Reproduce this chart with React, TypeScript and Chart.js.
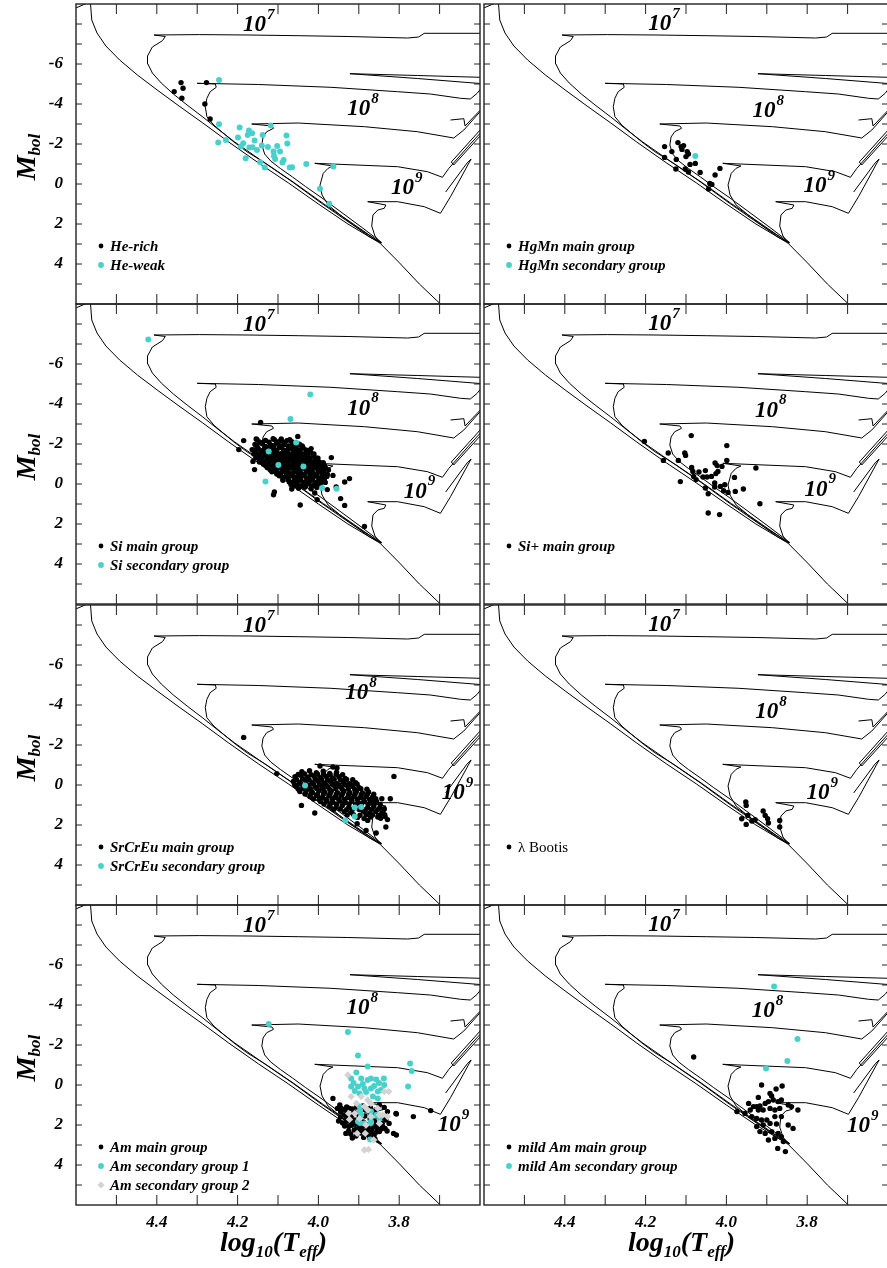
import React, { useEffect, useRef } from 'react';
import { Chart, registerables } from 'chart.js';

Chart.register(...registerables);

type P = [number, number];

// ---------- axes ----------
const X_MIN = 3.6;
const X_MAX = 4.6;
const Y_MIN = -9;
const Y_MAX = 6;
const X_TICK_LABELS = ['4.4', '4.2', '4.0', '3.8'];
const Y_TICK_LABELS = ['-6', '-4', '-2', '0', '2', '4'];

// ---------- isochrones (log Teff, Mbol) ----------
const ZAMS: P[] = [
  [4.565, -9.2], [4.564, -9.0], [4.561, -8.2], [4.548, -7.55], [4.526, -6.9], [4.492, -6.2],
  [4.448, -5.45], [4.399, -4.7], [4.345, -3.9], [4.286, -3.05], [4.222, -2.1], [4.148, -1.05],
  [4.074, -0.05], [4.0, 1.0], [3.927, 2.0], [3.848, 2.95], [3.799, 3.95], [3.75, 5.0], [3.698, 6.0],
];
const ISO_A: P[] = [[4.566, -9.1], [4.603, -8.78], [4.62, -8.65]];
const ISO_B: P[] = [
  [3.846, 2.925], [3.922, 1.95], [3.993, 0.95], [4.064, -0.1], [4.136, -1.1], [4.207, -2.1],
  [4.246, -2.7], [4.286, -3.35], [4.325, -3.95], [4.359, -4.5], [4.389, -5.05], [4.411, -5.55],
  [4.422, -6.0], [4.423, -6.4], [4.411, -6.85], [4.386, -7.165], [4.379, -7.375], [4.407, -7.45],
  [4.295, -7.47], [4.172, -7.45], [4.05, -7.415], [3.927, -7.375], [3.779, -7.3], [3.752, -7.35],
  [3.738, -7.535], [3.55, -7.535],
];
const ISO_C: P[] = [
  [3.846, 2.94], [3.917, 1.95], [3.988, 0.975], [4.057, -0.025], [4.128, -1.0], [4.177, -1.615],
  [4.21, -2.115], [4.235, -2.535], [4.259, -2.95], [4.276, -3.365], [4.28, -3.865], [4.276, -4.285],
  [4.268, -4.615], [4.253, -4.835], [4.255, -5.0], [4.3, -5.035], [4.148, -4.975], [3.969, -4.835],
  [3.804, -4.615], [3.723, -4.5], [3.648, -4.285], [3.624, -4.25], [3.607, -4.535], [3.593, -4.9],
  [3.558, -5.2], [3.6, -5.025], [3.755, -5.275], [3.922, -5.515], [3.755, -5.425], [3.6, -5.335],
  [3.558, -5.325],
];
const ISO_D: P[] = [
  [3.843, 2.93], [3.897, 2.1], [3.944, 1.4], [3.991, 0.7], [4.032, 0.125], [4.064, -0.35],
  [4.094, -0.775], [4.118, -1.15], [4.133, -1.5], [4.14, -1.95], [4.137, -2.35], [4.128, -2.615],
  [4.111, -2.785], [4.115, -2.9], [4.165, -3.0], [4.05, -3.05], [3.886, -2.865], [3.755, -2.615],
  [3.665, -2.3], [3.64, -2.7], [3.607, -3.45], [3.583, -4.0], [3.598, -3.725], [3.637, -2.9],
  [3.64, -3.265], [3.673, -3.2],
];
const ISO_E: P[] = [
  [3.843, 2.95], [3.873, 2.65], [3.907, 2.15], [3.946, 1.55], [3.976, 1.05], [3.991, 0.55],
  [3.996, 0.05], [3.988, -0.535], [3.976, -0.785], [3.964, -0.9], [4.009, -1.035], [3.804, -0.865],
  [3.73, -0.615], [3.693, -0.335], [3.677, -0.785], [3.615, -2.2], [3.583, -2.9], [3.593, -2.55],
  [3.665, -0.95], [3.671, -1.1], [3.593, -2.85],
];
const ISO_F: P[] = [
  [3.846, 2.95], [3.86, 2.6], [3.868, 2.1], [3.865, 1.55], [3.853, 1.3], [3.837, 1.215],
  [3.833, 1.05], [3.878, 0.885], [3.804, 0.885], [3.738, 1.135], [3.698, 1.465], [3.673, 0.635],
  [3.622, -1.25], [3.632, -1.05], [3.685, 0.4],
];
const ISOCHRONES: P[][] = [ZAMS, ISO_A, ISO_B, ISO_C, ISO_D, ISO_E, ISO_F];

// ---------- isochrone age labels (anchor of "10", exponent) ----------
const AGE_EXPONENTS = ['7', '8', '9'];
const AGES_HE: P[] = [[4.158, -7.95], [3.9, -3.75], [3.792, 0.225]];
const AGES_HGMN: P[] = [[4.165, -8.0], [3.907, -3.65], [3.781, 0.125]];
const AGES_SI: P[] = [[4.158, -7.95], [3.9, -3.77], [3.76, 0.38]];
const AGES_SIPLUS: P[] = [[4.165, -8.0], [3.901, -3.67], [3.778, 0.28]];
const AGES_SRCREU: P[] = [[4.158, -7.95], [3.905, -4.6], [3.666, 0.42]];
const AGES_LBOO: P[] = [[4.165, -8.0], [3.9, -3.63], [3.773, 0.42]];
const AGES_AM: P[] = [[4.158, -7.95], [3.902, -3.83], [3.676, 2.0]];
const AGES_MILDAM: P[] = [[4.165, -8.0], [3.909, -3.68], [3.673, 2.05]];

// ---------- stars ----------
const HE_RICH: P[] = [[4.357, -4.62], [4.34, -5.07], [4.335, -4.79], [4.338, -4.29], [4.277, -5.07], [4.281, -4.0], [4.268, -3.25]];
const HE_WEAK: P[] = [
  [4.246, -5.2], [4.246, -2.99], [4.248, -2.07], [4.229, -2.2], [4.195, -2.82], [4.199, -2.32], [4.186, -2.04],
  [4.192, -1.87], [4.172, -2.67], [4.175, -2.45], [4.164, -2.54], [4.158, -2.17], [4.171, -1.82], [4.163, -1.84],
  [4.152, -1.7], [4.18, -1.29], [4.138, -2.45], [4.14, -1.92], [4.125, -1.85], [4.118, -2.92], [4.102, -1.9],
  [4.111, -1.62], [4.095, -1.62], [4.11, -1.4], [4.107, -1.25], [4.086, -1.2], [4.089, -1.07], [4.079, -2.42],
  [4.077, -2.02], [4.071, -0.82], [4.065, -0.84], [4.144, -1.09], [4.133, -0.82], [4.03, -1.0], [3.963, -0.87],
  [3.996, 0.24], [3.973, 0.99],
];
const HGMN_MAIN: P[] = [
  [4.153, -1.87], [4.153, -1.33], [4.135, -1.62], [4.124, -1.23], [4.12, -2.07], [4.112, -1.87], [4.106, -1.92],
  [4.11, -1.73], [4.1, -1.37], [4.097, -1.62], [4.094, -1.5], [4.125, -0.75], [4.102, -0.75], [4.094, -0.6],
  [4.09, -0.98], [4.077, -1.03], [4.065, -0.58], [4.041, -0.03], [4.036, 0.02], [4.044, 0.25], [4.028, -0.45],
  [4.016, -0.78],
];
const HGMN_SEC: P[] = [[4.077, -1.4]];
const SI_MAIN: P[] = [
  [4.143, -3.08], [4.185, -2.17], [4.197, -1.72], [4.158, -0.72], [4.111, 0.54], [4.109, 0.4], [4.045, 1.05],
  [4.003, 0.78], [3.935, 1.07], [3.945, 0.73], [3.935, -0.1], [3.923, -0.27], [3.964, -0.43], [3.968, -1.32],
  [4.018, -1.77], [4.051, -2.38], [4.078, -2.17], [4.092, -2.25], [4.109, -2.22], [4.154, -2.25], [4.14, -2.05],
  [4.164, -1.72], [4.162, -1.13], [3.886, 2.12], [3.956, 0.15], [3.983, -0.08], [3.978, 0.28], [4.009, 0.45],
  [4.066, 0.25],
  [4.152, -2.22], [4.131, -2.18], [4.112, -2.26], [4.094, -2.15], [4.071, -2.21], [4.058, -2.05],
  [4.157, -1.98], [4.139, -2.02], [4.118, -1.95], [4.101, -2.04], [4.083, -1.97], [4.064, -1.92], [4.047, -1.99],
  [4.149, -1.78], [4.128, -1.83], [4.113, -1.74], [4.097, -1.81], [4.086, -1.7], [4.069, -1.79], [4.052, -1.72],
  [4.038, -1.81], [4.024, -1.66],
  [4.154, -1.58], [4.141, -1.62], [4.124, -1.55], [4.108, -1.63], [4.093, -1.52], [4.079, -1.59], [4.063, -1.54],
  [4.049, -1.61], [4.033, -1.49], [4.019, -1.57],
  [4.148, -1.38], [4.133, -1.43], [4.119, -1.35], [4.104, -1.41], [4.089, -1.33], [4.074, -1.39], [4.061, -1.31],
  [4.044, -1.42], [4.029, -1.34], [4.013, -1.4], [4.001, -1.29],
  [4.144, -1.19], [4.128, -1.22], [4.114, -1.15], [4.099, -1.24], [4.084, -1.13], [4.071, -1.2], [4.056, -1.12],
  [4.041, -1.21], [4.026, -1.14], [4.009, -1.18], [3.996, -1.08],
  [4.136, -0.99], [4.123, -1.03], [4.109, -0.95], [4.093, -1.01], [4.078, -0.93], [4.064, -0.99], [4.049, -0.91],
  [4.034, -1.02], [4.019, -0.94], [4.004, -0.98], [3.991, -0.88],
  [4.126, -0.81], [4.112, -0.77], [4.098, -0.84], [4.083, -0.75], [4.068, -0.82], [4.053, -0.73], [4.039, -0.8],
  [4.023, -0.74], [4.008, -0.81], [3.994, -0.71], [3.982, -0.79],
  [4.115, -0.61], [4.101, -0.57], [4.087, -0.64], [4.072, -0.55], [4.058, -0.62], [4.043, -0.53], [4.028, -0.6],
  [4.013, -0.54], [3.999, -0.61], [3.986, -0.52],
  [4.097, -0.41], [4.082, -0.36], [4.067, -0.44], [4.052, -0.35], [4.037, -0.42], [4.022, -0.33], [4.007, -0.4],
  [3.993, -0.31], [3.979, -0.38],
  [4.088, -0.19], [4.074, -0.23], [4.059, -0.15], [4.045, -0.21], [4.03, -0.13], [4.016, -0.2], [4.002, -0.12],
  [3.987, -0.18],
  [4.068, 0.02], [4.053, -0.04], [4.039, 0.05], [4.024, -0.02], [4.01, 0.06], [3.996, 0.01],
  [4.049, 0.21], [4.034, 0.16], [4.018, 0.24], [4.004, 0.18],
  [4.146, -2.1], [4.122, -2.09], [4.104, -2.12], [4.085, -2.08], [4.066, -2.11],
  [4.152, -1.9], [4.131, -1.88], [4.11, -1.91], [4.092, -1.89], [4.074, -1.9], [4.056, -1.87], [4.04, -1.9],
  [4.158, -1.7], [4.137, -1.69], [4.12, -1.71], [4.104, -1.68], [4.077, -1.7], [4.061, -1.69], [4.045, -1.71], [4.031, -1.7],
  [4.16, -1.5], [4.146, -1.48], [4.13, -1.51], [4.116, -1.49], [4.1, -1.5], [4.085, -1.47], [4.071, -1.5],
  [4.056, -1.49], [4.041, -1.51], [4.026, -1.48], [4.011, -1.5],
  [4.155, -1.3], [4.141, -1.28], [4.126, -1.31], [4.111, -1.29], [4.097, -1.3], [4.082, -1.27], [4.067, -1.3],
  [4.052, -1.29], [4.037, -1.31], [4.021, -1.28], [4.006, -1.3],
  [4.146, -1.1], [4.136, -1.08], [4.121, -1.11], [4.106, -1.09], [4.091, -1.1], [4.077, -1.07], [4.063, -1.1],
  [4.048, -1.09], [4.033, -1.11], [4.017, -1.08], [4.002, -1.1], [3.988, -1.07],
  [4.13, -0.9], [4.116, -0.88], [4.101, -0.91], [4.086, -0.89], [4.071, -0.9], [4.057, -0.87], [4.042, -0.9],
  [4.027, -0.89], [4.012, -0.91], [3.998, -0.88], [3.985, -0.9],
  [4.119, -0.7], [4.105, -0.68], [4.09, -0.71], [4.076, -0.69], [4.061, -0.7], [4.046, -0.67], [4.031, -0.7],
  [4.016, -0.69], [4.001, -0.71], [3.988, -0.68], [3.975, -0.7],
  [4.103, -0.5], [4.094, -0.48], [4.079, -0.51], [4.064, -0.49], [4.05, -0.5], [4.035, -0.47], [4.02, -0.5],
  [4.005, -0.49], [3.991, -0.51], [3.978, -0.48],
  [4.088, -0.3], [4.074, -0.28], [4.06, -0.31], [4.044, -0.29], [4.029, -0.3], [4.014, -0.27], [3.999, -0.3], [3.985, -0.29],
  [4.072, -0.1], [4.067, -0.08], [4.052, -0.11], [4.037, -0.09], [4.023, -0.1], [4.008, -0.07], [3.994, -0.1],
  [4.06, 0.1], [4.046, 0.12], [4.031, 0.09], [4.016, 0.11], [4.002, 0.1],
];
const SI_SEC: P[] = [
  [4.421, -7.22], [4.02, -4.48], [4.069, -3.25], [4.055, -2.08], [4.123, -1.63], [4.099, -0.95], [4.037, -0.87],
  [4.131, -0.13], [3.991, 0.2], [3.955, 0.24],
];
const SIPLUS_MAIN: P[] = [
  [4.203, -2.13], [4.144, -1.55], [4.103, -1.55], [4.101, -1.43], [4.087, -2.42], [3.999, -1.92], [4.119, -1.18],
  [4.156, -1.18], [4.086, -0.83], [4.083, -0.63], [4.068, -0.6], [4.052, -0.67], [4.028, -1.05], [4.023, -0.92],
  [4.011, -0.88], [3.999, -1.18], [4.021, -0.63], [4.026, -0.52], [4.037, -0.38], [4.048, -0.35], [4.058, -0.35],
  [4.081, -0.38], [4.075, -0.22], [4.114, -0.12], [3.927, -0.8], [3.98, -0.33], [4.029, -0.05], [4.029, 0.15],
  [4.015, 0.12], [4.004, 0.04], [4.007, 0.34], [3.996, 0.42], [3.978, 0.37], [3.958, 0.25], [4.052, 0.2],
  [4.045, 0.49], [3.917, 0.99], [4.045, 1.45], [4.017, 1.53],
];
const SRCREU_MAIN: P[] = [
  [4.103, -0.57], [4.185, -2.38], [3.813, -0.43], [3.954, -0.85], [3.964, -0.9], [3.996, -0.95], [4.042, 1.02],
  [4.009, 1.4], [3.822, 0.69], [3.843, 0.69], [3.837, 1.19], [3.853, 1.6], [3.857, 2.4], [3.829, 1.73],
  [3.833, 2.1], [3.878, 1.77], [3.882, 2.27], [3.904, 1.94], [3.861, 0.77],
  [4.041, -0.66], [4.022, -0.71], [4.005, -0.62], [3.988, -0.69], [3.972, -0.58], [3.955, -0.64],
  [4.058, -0.42], [4.043, -0.47], [4.027, -0.39], [4.011, -0.45], [3.996, -0.36], [3.981, -0.43], [3.965, -0.35],
  [3.949, -0.41], [3.934, -0.33],
  [4.062, -0.18], [4.047, -0.13], [4.031, -0.21], [4.016, -0.12], [4.001, -0.19], [3.986, -0.1], [3.97, -0.17],
  [3.955, -0.08], [3.939, -0.15], [3.923, -0.06], [3.908, -0.12],
  [4.054, 0.07], [4.038, 0.12], [4.023, 0.04], [4.007, 0.11], [3.992, 0.03], [3.977, 0.1], [3.961, 0.02],
  [3.946, 0.09], [3.93, 0.01], [3.915, 0.08], [3.899, 0.13],
  [4.046, 0.33], [4.03, 0.28], [4.015, 0.36], [3.999, 0.29], [3.984, 0.37], [3.968, 0.3], [3.953, 0.38],
  [3.937, 0.31], [3.922, 0.39], [3.906, 0.32], [3.891, 0.4], [3.876, 0.35],
  [4.021, 0.58], [4.005, 0.53], [3.99, 0.61], [3.974, 0.54], [3.959, 0.62], [3.943, 0.55], [3.928, 0.63],
  [3.912, 0.56], [3.897, 0.64], [3.881, 0.57], [3.866, 0.61],
  [3.995, 0.83], [3.979, 0.79], [3.964, 0.86], [3.948, 0.8], [3.933, 0.88], [3.917, 0.81], [3.902, 0.89],
  [3.886, 0.82], [3.871, 0.9], [3.856, 0.84],
  [3.972, 1.06], [3.956, 1.11], [3.941, 1.04], [3.925, 1.12], [3.894, 1.05], [3.878, 1.13], [3.863, 1.07],
  [3.848, 1.14],
  [3.936, 1.33], [3.92, 1.38], [3.889, 1.31], [3.873, 1.39], [3.858, 1.33], [3.843, 1.41],
  [3.903, 1.62], [3.887, 1.68], [3.871, 1.6], [3.846, 1.66], [3.835, 1.58],
  [4.05, -0.53], [4.034, -0.55], [4.018, -0.52], [4.002, -0.54], [3.987, -0.53], [3.971, -0.51], [3.956, -0.54], [3.94, -0.52],
  [4.054, -0.28], [4.039, -0.3], [4.023, -0.27], [4.008, -0.29], [3.992, -0.28], [3.977, -0.26], [3.961, -0.29],
  [3.946, -0.27], [3.93, -0.28], [3.915, -0.26],
  [4.059, -0.03], [4.043, -0.05], [4.028, -0.02], [4.012, -0.04], [3.997, -0.03], [3.981, -0.01], [3.966, -0.04],
  [3.95, -0.02], [3.935, -0.03], [3.919, -0.01], [3.904, -0.04],
  [4.05, 0.2], [4.034, 0.18], [4.019, 0.21], [4.003, 0.19], [3.988, 0.2], [3.972, 0.22], [3.957, 0.19],
  [3.941, 0.21], [3.926, 0.2], [3.91, 0.22], [3.895, 0.19], [3.88, 0.21],
  [4.033, 0.45], [4.018, 0.43], [4.002, 0.46], [3.987, 0.44], [3.971, 0.45], [3.956, 0.47], [3.94, 0.44],
  [3.925, 0.46], [3.909, 0.45], [3.894, 0.47], [3.878, 0.44], [3.863, 0.46],
  [4.012, 0.7], [3.997, 0.68], [3.981, 0.71], [3.966, 0.69], [3.95, 0.7], [3.935, 0.72], [3.919, 0.69],
  [3.904, 0.71], [3.888, 0.7], [3.873, 0.72], [3.858, 0.69],
  [3.986, 0.95], [3.97, 0.93], [3.955, 0.96], [3.939, 0.94], [3.924, 0.95], [3.908, 0.97], [3.893, 0.94],
  [3.877, 0.96], [3.862, 0.95], [3.847, 0.97],
  [3.962, 1.22], [3.946, 1.2], [3.93, 1.23], [3.915, 1.21], [3.899, 1.22], [3.884, 1.24], [3.868, 1.21],
  [3.853, 1.23], [3.838, 1.22],
  [3.929, 1.5], [3.913, 1.48], [3.897, 1.51], [3.882, 1.49], [3.866, 1.5], [3.851, 1.52], [3.836, 1.49],
];
const SRCREU_SEC: P[] = [[4.033, 0.02], [3.91, 1.13], [3.894, 1.1], [3.91, 1.57], [3.933, 1.77]];
const LBOO: P[] = [
  [3.951, 1.02], [3.947, 1.52], [3.962, 1.685], [3.951, 1.97], [3.937, 1.8], [3.929, 1.735], [3.909, 1.3],
  [3.904, 1.52], [3.898, 1.685], [3.896, 1.9], [3.868, 1.77], [3.868, 2.1], [3.952, 0.85],
];
const AM_MAIN: P[] = [
  [3.953, 1.17], [3.936, 1.5], [3.918, 1.75], [3.925, 2.08], [3.897, 2.08], [3.932, 2.42], [3.911, 2.25],
  [3.842, 1.92], [3.835, 2.17], [3.849, 2.33], [3.807, 1.45], [3.765, 1.58], [3.807, 2.5], [3.814, 2.42],
  [3.964, 0.67], [3.947, 1.0], [3.943, 1.17], [3.935, 1.25], [3.923, 1.17], [3.849, 1.0], [3.837, 1.12],
  [3.829, 1.33], [3.808, 1.42], [3.722, 1.28], [3.927, 1.42], [3.919, 1.58], [3.91, 1.75], [3.833, 1.75],
  [3.825, 1.92], [3.841, 2.08], [3.919, 2.0], [3.894, 2.08], [3.861, 2.08], [3.931, 1.83], [3.905, 1.95],
  [3.889, 1.85], [3.876, 1.97], [3.868, 2.2], [3.882, 2.3], [3.895, 2.4], [3.907, 2.55], [3.875, 2.5],
  [3.856, 2.35], [3.861, 1.8], [3.852, 1.6], [3.866, 1.45], [3.899, 1.6], [3.912, 1.35], [3.884, 1.25],
  [3.871, 1.15], [3.858, 1.25], [3.94, 1.9], [3.945, 1.6], [3.916, 2.65], [3.888, 2.62], [3.9, 2.2],
  [3.885, 2.05], [3.87, 2.35], [3.925, 2.3],
  [3.945, 1.35], [3.93, 1.1], [3.915, 1.2], [3.9, 1.45], [3.885, 1.55], [3.872, 1.7], [3.858, 1.95],
  [3.845, 2.2], [3.862, 2.5], [3.877, 2.2], [3.893, 2.25], [3.92, 2.45], [3.935, 2.05], [3.95, 1.8],
  [3.915, 1.9], [3.9, 2.35], [3.887, 2.45], [3.873, 2.65], [3.86, 2.7], [3.855, 2.15], [3.84, 1.65],
  [3.83, 2.3], [3.93, 1.65], [3.905, 1.1], [3.89, 1.05], [3.875, 1.35],
];
const AM_SEC1: P[] = [
  [4.123, -3.05], [3.927, -2.65], [3.902, -1.47], [3.878, -0.92], [3.773, -1.08], [3.769, -0.7], [3.778, 0.08],
  [3.906, -0.62], [3.919, -0.33], [3.894, -0.33], [3.878, -0.25], [3.87, -0.33], [3.857, -0.28], [3.838, -0.33],
  [3.837, 0.0], [3.919, 0.08], [3.902, 0.08], [3.886, 0.17], [3.87, 0.17], [3.853, 0.33], [3.845, 0.25],
  [3.898, 0.42], [3.865, 0.58], [3.853, 0.67], [3.898, 1.08], [3.894, 1.5], [3.87, 1.58], [3.857, 1.5],
  [3.849, 1.67], [3.902, 1.83], [3.87, 1.83], [3.886, 1.92], [3.897, 1.9], [3.87, 1.9], [3.897, 1.33],
  [3.87, 1.33], [3.872, 2.72], [3.913, -0.1], [3.89, -0.05], [3.862, 0.05], [3.882, 0.35], [3.91, 0.3],
  [3.85, -0.1],
];
const AM_SEC2: P[] = [
  [3.927, -0.5], [3.919, 0.58], [3.906, 0.92], [3.894, 0.58], [3.878, 0.75], [3.87, 0.92], [3.886, 1.08],
  [3.837, 0.33], [3.826, 0.33], [3.853, 1.17], [3.91, 1.42], [3.898, 1.67], [3.923, 1.72], [3.878, 1.25],
  [3.841, 1.5], [3.882, 2.0], [3.849, 1.92], [3.829, 1.58], [3.925, 1.42], [3.87, 1.58], [3.849, 1.5],
  [3.884, 2.42], [3.904, 2.42], [3.863, 2.75], [3.876, 3.22], [3.886, 3.25],
];
const MILDAM_MAIN: P[] = [
  [4.081, -1.4], [3.913, 0.0], [3.877, 0.2], [3.862, 0.05], [3.921, 0.62], [3.892, 0.42], [3.888, 0.55],
  [3.945, 0.92], [3.933, 1.08], [3.925, 1.08], [3.917, 1.05], [3.904, 0.92], [3.896, 0.83], [3.884, 0.75],
  [3.872, 0.83], [3.864, 0.75], [3.847, 1.0], [3.839, 1.08], [3.823, 1.25], [3.974, 1.33], [3.954, 1.42],
  [3.941, 1.25], [3.921, 1.25], [3.909, 1.25], [3.892, 1.17], [3.88, 1.25], [3.868, 1.17], [3.937, 1.58],
  [3.925, 1.67], [3.913, 1.75], [3.9, 1.75], [3.88, 1.58], [3.864, 1.58], [3.847, 2.0], [3.835, 2.17],
  [3.925, 2.08], [3.909, 2.0], [3.892, 1.92], [3.876, 1.95], [3.917, 2.33], [3.904, 2.42], [3.888, 2.33],
  [3.872, 2.42], [3.864, 2.58], [3.88, 2.67], [3.896, 2.75], [3.859, 2.83], [3.873, 3.17], [3.854, 3.33],
];
const MILDAM_SEC: P[] = [[3.882, -4.92], [3.824, -2.3], [3.849, -1.2], [3.902, -0.83]];

// ---------- styles ----------
const BLACK = '#000000';
const CYAN = '#48d1cc';
const GREY = '#d3d3d3';
const SERIF = '"Liberation Serif", "Times New Roman", serif';

type Series = { label: string; data: P[]; color: string; radius: number; legendRadius: number; style: string; upright?: boolean };
type PanelCfg = { row: number; col: number; series: Series[]; ages: P[] };

const black = (label: string, data: P[], upright = false): Series => ({ label, data, color: BLACK, radius: 2.7, legendRadius: 2.4, style: 'circle', upright });
const cyan = (label: string, data: P[]): Series => ({ label, data, color: CYAN, radius: 3.0, legendRadius: 2.9, style: 'circle' });
const grey = (label: string, data: P[]): Series => ({ label, data, color: GREY, radius: 3.7, legendRadius: 3.6, style: 'rectRot' });

const PANELS: PanelCfg[] = [
  { row: 0, col: 0, ages: AGES_HE, series: [black('He-rich', HE_RICH), cyan('He-weak', HE_WEAK)] },
  { row: 0, col: 1, ages: AGES_HGMN, series: [black('HgMn main group', HGMN_MAIN), cyan('HgMn secondary group', HGMN_SEC)] },
  { row: 1, col: 0, ages: AGES_SI, series: [black('Si main group', SI_MAIN), cyan('Si secondary group', SI_SEC)] },
  { row: 1, col: 1, ages: AGES_SIPLUS, series: [black('Si+ main group', SIPLUS_MAIN)] },
  { row: 2, col: 0, ages: AGES_SRCREU, series: [black('SrCrEu main group', SRCREU_MAIN), cyan('SrCrEu secondary group', SRCREU_SEC)] },
  { row: 2, col: 1, ages: AGES_LBOO, series: [black('λ Bootis', LBOO, true)] },
  { row: 3, col: 0, ages: AGES_AM, series: [black('Am main group', AM_MAIN), cyan('Am secondary group 1', AM_SEC1), grey('Am secondary group 2', AM_SEC2)] },
  { row: 3, col: 1, ages: AGES_MILDAM, series: [black('mild Am main group', MILDAM_MAIN), cyan('mild Am secondary group', MILDAM_SEC)] },
];

const ROW_PITCH = 300.33;
const PAD_TOP = 4;

function drawMarker(ctx: CanvasRenderingContext2D, s: Series, x: number, y: number) {
  ctx.fillStyle = s.color;
  ctx.beginPath();
  const r = s.legendRadius;
  if (s.style === 'rectRot') {
    ctx.moveTo(x, y - r);
    ctx.lineTo(x + r, y);
    ctx.lineTo(x, y + r);
    ctx.lineTo(x - r, y);
    ctx.closePath();
  } else {
    ctx.arc(x, y, r, 0, Math.PI * 2);
  }
  ctx.fill();
}

function Panel({ cfg }: { cfg: PanelCfg }) {
  const ref = useRef<HTMLCanvasElement>(null);
  const isBottom = cfg.row === 3;
  const isLeft = cfg.col === 0;
  const yAxisW = isLeft ? 76 : 4;
  const xAxisH = isBottom ? 62 : 4;
  const canvasLeft = isLeft ? 0 : 480;
  const width = isLeft ? 484 : 412;
  const areaTop = Math.round(4 + cfg.row * ROW_PITCH);
  const canvasTop = areaTop - PAD_TOP;
  const height = PAD_TOP + 300 + xAxisH;

  useEffect(() => {
    const canvas = ref.current;
    if (!canvas) return;

    const lineSets = ISOCHRONES.map((iso) => ({
      type: 'scatter',
      data: iso.map(([x, y]) => ({ x, y })),
      showLine: true,
      borderColor: '#000',
      borderWidth: 1,
      pointRadius: 0,
      fill: false,
      clip: 0,
      order: 10,
    }));
    const pointSets = cfg.series.map((s, i) => ({
      type: 'scatter',
      label: s.label,
      data: s.data.map(([x, y]) => ({ x, y })),
      showLine: false,
      pointRadius: s.radius,
      pointStyle: s.style,
      pointBackgroundColor: s.color,
      pointBorderColor: s.color,
      pointBorderWidth: 0,
      order: 5 - i,
    }));

    const tickFont = { family: SERIF, size: 17, style: 'italic', weight: 'bold' };

    const decor = {
      id: 'decor',
      afterDatasetsDraw(chart: any) {
        const { ctx, chartArea: a, scales } = chart;
        const xs = scales.x;
        const ys = scales.y;
        ctx.save();
        ctx.strokeStyle = '#222';
        ctx.lineWidth = 1;
        ctx.beginPath();
        xs.ticks.forEach((t: any) => {
          const px = xs.getPixelForValue(t.value);
          if (px <= a.left + 1 || px >= a.right - 1) return;
          ctx.moveTo(px, a.bottom);
          ctx.lineTo(px, a.bottom - 10);
          ctx.moveTo(px, a.top);
          ctx.lineTo(px, a.top + 10);
        });
        ys.ticks.forEach((t: any) => {
          const py = ys.getPixelForValue(t.value);
          if (py <= a.top + 1 || py >= a.bottom - 1) return;
          ctx.moveTo(a.left, py);
          ctx.lineTo(a.left + 6, py);
          ctx.moveTo(a.right, py);
          ctx.lineTo(a.right - 6, py);
        });
        ctx.stroke();
        ctx.lineWidth = 1.4;
        ctx.strokeStyle = '#222';
        ctx.strokeRect(a.left, a.top, a.right - a.left, a.bottom - a.top);
        ctx.restore();
      },
      afterDraw(chart: any) {
        const { ctx, chartArea: a, scales } = chart;
        const xs = scales.x;
        const ys = scales.y;
        ctx.save();
        ctx.fillStyle = '#000';
        cfg.ages.forEach(([lx, ly], i) => {
          const px = xs.getPixelForValue(lx);
          const py = ys.getPixelForValue(ly);
          ctx.font = `italic bold 23px ${SERIF}`;
          ctx.textAlign = 'center';
          ctx.textBaseline = 'middle';
          ctx.fillText('10', px, py);
          const w = ctx.measureText('10').width;
          ctx.font = `italic bold 15px ${SERIF}`;
          ctx.textAlign = 'left';
          ctx.fillText(AGE_EXPONENTS[i], px + w / 2 + 1, py - 10);
        });
        cfg.series.forEach((s, i) => {
          const my = a.top + 242 + i * 19;
          drawMarker(ctx, s, a.left + 25, my);
          ctx.fillStyle = '#000';
          ctx.font = s.upright ? `15px ${SERIF}` : `italic bold 15px ${SERIF}`;
          ctx.textAlign = 'left';
          ctx.textBaseline = 'middle';
          ctx.fillText(s.label, a.left + 34, my + 1);
        });
        if (isLeft) {
          ctx.save();
          const cy = a.top + 153;
          ctx.translate(35, cy);
          ctx.rotate(-Math.PI / 2);
          ctx.textBaseline = 'alphabetic';
          ctx.textAlign = 'left';
          ctx.font = `italic bold 28px ${SERIF}`;
          const wM = ctx.measureText('M').width;
          ctx.font = `italic bold 17px ${SERIF}`;
          const wB = ctx.measureText('bol').width;
          const start = -(wM + wB) / 2;
          ctx.font = `italic bold 28px ${SERIF}`;
          ctx.fillText('M', start, 0);
          ctx.font = `italic bold 17px ${SERIF}`;
          ctx.fillText('bol', start + wM, 5);
          ctx.restore();
        }
        if (isBottom) {
          let x = a.left + 144;
          const base = a.bottom + 46;
          ctx.textAlign = 'left';
          ctx.textBaseline = 'alphabetic';
          const parts: [string, number, number][] = [['log', 28, 0], ['10', 17, 6], ['(T', 28, 0], ['eff', 17, 6], [')', 28, 0]];
          parts.forEach(([t, size, dy]) => {
            ctx.font = `italic bold ${size}px ${SERIF}`;
            ctx.fillText(t, x, base + dy);
            x += ctx.measureText(t).width;
          });
        }
        ctx.restore();
      },
    };

    const chart = new Chart(canvas, {
      type: 'scatter',
      data: { datasets: [...pointSets, ...lineSets] as any },
      options: {
        animation: false,
        responsive: false,
        maintainAspectRatio: false,
        events: [],
        layout: { padding: { top: PAD_TOP, left: 0, right: 0, bottom: 0 } },
        plugins: { legend: { display: false }, tooltip: { enabled: false } },
        scales: {
          x: {
            type: 'linear',
            min: X_MIN,
            max: X_MAX,
            reverse: true,
            grid: { display: false, drawTicks: false },
            border: { display: false },
            ticks: {
              display: isBottom,
              stepSize: 0.1,
              autoSkip: false,
              maxRotation: 0,
              minRotation: 0,
              padding: 7,
              color: '#000',
              font: tickFont as any,
              callback: (v: any) => {
                const s = Number(v).toFixed(1);
                return X_TICK_LABELS.includes(s) ? s : '';
              },
            },
            afterFit: (s: any) => {
              s.height = xAxisH;
              s.paddingLeft = 0;
              s.paddingRight = 0;
            },
          },
          y: {
            type: 'linear',
            min: Y_MIN,
            max: Y_MAX,
            reverse: true,
            grid: { display: false, drawTicks: false },
            border: { display: false },
            ticks: {
              display: isLeft,
              stepSize: 1,
              autoSkip: false,
              padding: 13,
              color: '#000',
              font: tickFont as any,
              callback: (v: any) => {
                const s = String(Math.round(Number(v)));
                return Y_TICK_LABELS.includes(s) ? s : '';
              },
            },
            afterFit: (s: any) => {
              s.width = yAxisW;
              s.paddingTop = 0;
              s.paddingBottom = 0;
            },
          },
        },
      } as any,
      plugins: [decor as any],
    });
    return () => chart.destroy();
  }, []);

  return (
    <canvas
      ref={ref}
      width={width}
      height={height}
      style={{ position: 'absolute', left: canvasLeft, top: canvasTop, width, height }}
    />
  );
}

export default function App() {
  return (
    <div style={{ position: 'absolute', left: 0, top: 0, width: 887, height: 1268, overflow: 'hidden', background: '#fff' }}>
      {PANELS.map((p, i) => (
        <Panel key={i} cfg={p} />
      ))}
    </div>
  );
}
